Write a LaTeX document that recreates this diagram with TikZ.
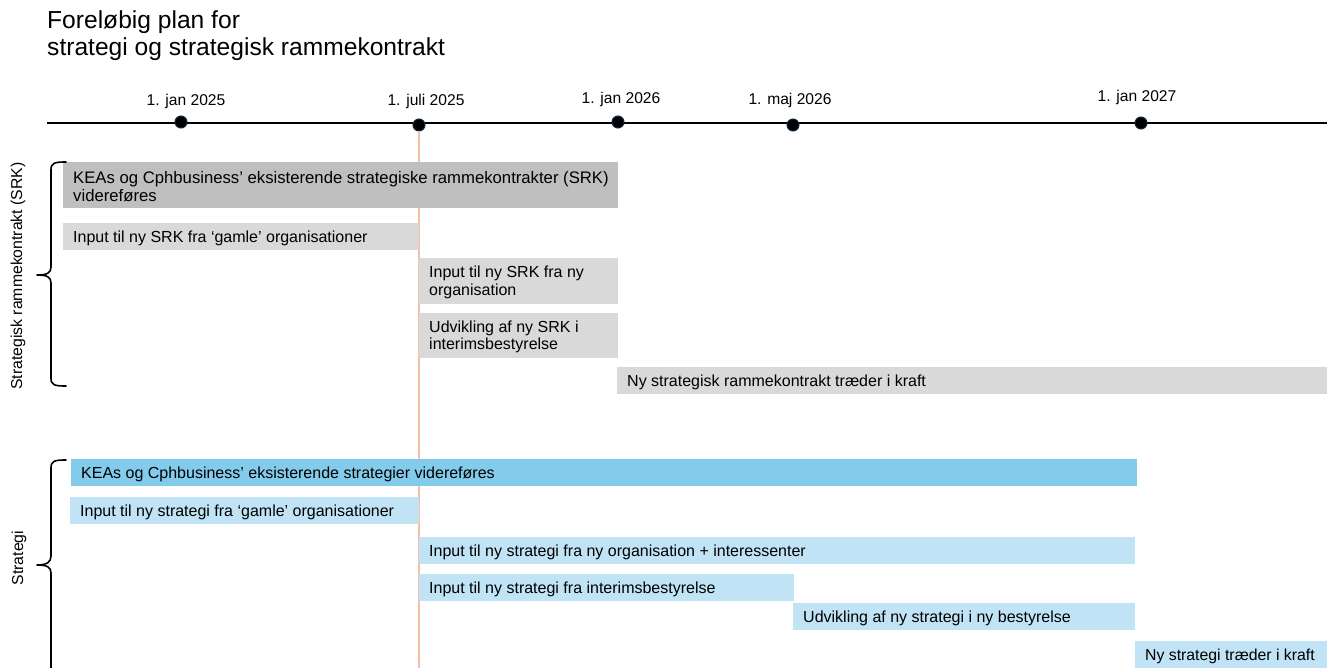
\documentclass[tikz,border=0pt]{standalone}
\usepackage{fontspec}
\setmainfont{Liberation Sans}
\definecolor{srkdark}{HTML}{BFBFBF}
\definecolor{srklight}{HTML}{D9D9D9}
\definecolor{strdark}{HTML}{83CBEB}
\definecolor{strlight}{HTML}{C0E4F5}
\definecolor{guide}{HTML}{F6BFA2}
\definecolor{dotedge}{HTML}{0E2841}
\tikzset{
  bartext/.style={anchor=west, inner xsep=10pt, inner ysep=0pt, align=left,
    font=\fontsize{16}{17.5}\selectfont, text=black},
  tdot/.style={circle, fill=black, draw=dotedge, line width=1pt, minimum size=12pt, inner sep=0pt},
  tlabel/.style={font=\fontsize{15.6}{18}\selectfont, inner sep=0pt},
  sidelabel/.style={rotate=90, font=\fontsize{15.8}{18}\selectfont, inner sep=0pt},
  bracefig/.style={line width=1.6pt, line cap=round, line join=round},
}
\newcommand{\bbar}[8][]{% [opts] name, x1, y1, x2, y2, color, text
  \pgfmathsetmacro{\ym}{(#4+#6)/2+1.5}%
  \fill[#7] (#3,#4) rectangle (#5,#6);
  \node[bartext, #1] (#2) at (#3,\ym) {#8};}
\begin{document}
\begin{tikzpicture}[x=1pt,y=-1pt]
\useasboundingbox (0,0) rectangle (1335,668);
% title
\node[anchor=base west, inner sep=0pt, font=\fontsize{24.6}{28}\selectfont] (title1) at (47,28.5) {Foreløbig plan for};
\node[anchor=base west, inner sep=0pt, font=\fontsize{24.6}{28}\selectfont] (title2) at (47,55.5) {strategi og strategisk rammekontrakt};
% timeline
\coordinate (tlL) at (47,123);
\coordinate (tlR) at (1327,123);
\coordinate (guideEnd) at (419,668);
\draw[line width=1.8pt] (tlL) -- (tlR);
\node[tdot] (d1) at (181,122) {};
\node[tdot] (d2) at (419,125) {};
\node[tdot] (d3) at (618,122) {};
\node[tdot] (d4) at (793,125) {};
\node[tdot] (d5) at (1141,123) {};
\draw[guide, line width=1.5pt] (d2.south) -- (guideEnd);
\node[tlabel] (l1) at (186,101) {1. jan 2025};
\node[tlabel] (l2) at (426,101) {1. juli 2025};
\node[tlabel] (l3) at (621,99) {1. jan 2026};
\node[tlabel] (l4) at (790,100) {1. maj 2026};
\node[tlabel] (l5) at (1137,97) {1. jan 2027};
% SRK section
\bbar[font=\fontsize{16.7}{17.5}\selectfont]{b1}{63}{162}{618}{208}{srkdark}{KEAs og Cphbusiness’ eksisterende strategiske rammekontrakter (SRK)\\videreføres}
\bbar{b2}{63}{223}{419}{250}{srklight}{Input til ny SRK fra ‘gamle’ organisationer}
\bbar{b3}{419}{258}{618}{304}{srklight}{Input til ny SRK fra ny\\organisation}
\bbar{b4}{419}{313}{618}{358}{srklight}{Udvikling af ny SRK i\\interimsbestyrelse}
\bbar{b5}{617}{367}{1327}{394}{srklight}{Ny strategisk rammekontrakt træder i kraft}
\draw[bracefig] (66,162) .. controls (54,162) and (51,163) .. (51,170) -- (51,267)
  .. controls (51,273) and (47,275) .. (37,275) .. controls (47,275) and (51,277) .. (51,283)
  -- (51,378) .. controls (51,385) and (54,386) .. (66,386);
\node[sidelabel] (srklabel) at (18,276) {Strategisk rammekontrakt (SRK)};
% Strategi section
\bbar{s1}{71}{459}{1137}{486}{strdark}{KEAs og Cphbusiness’ eksisterende strategier videreføres}
\bbar{s2}{70}{497}{419}{524}{strlight}{Input til ny strategi fra ‘gamle’ organisationer}
\bbar{s3}{419}{537}{1135}{564}{strlight}{Input til ny strategi fra ny organisation + interessenter}
\bbar{s4}{419}{574}{794}{601}{strlight}{Input til ny strategi fra interimsbestyrelse}
\bbar{s5}{793}{603}{1135}{630}{strlight}{Udvikling af ny strategi i ny bestyrelse}
\bbar[font=\fontsize{15.8}{17.5}\selectfont]{s6}{1135}{641}{1327}{668}{strlight}{Ny strategi træder i kraft}
\draw[bracefig] (66,460) .. controls (54,460) and (51,461) .. (51,468) -- (51,556)
  .. controls (51,562) and (47,565) .. (37,565) .. controls (47,565) and (51,567) .. (51,573)
  -- (51,672);
\node[sidelabel] (strlabel) at (19,558) {Strategi};
\end{tikzpicture}
\end{document}
